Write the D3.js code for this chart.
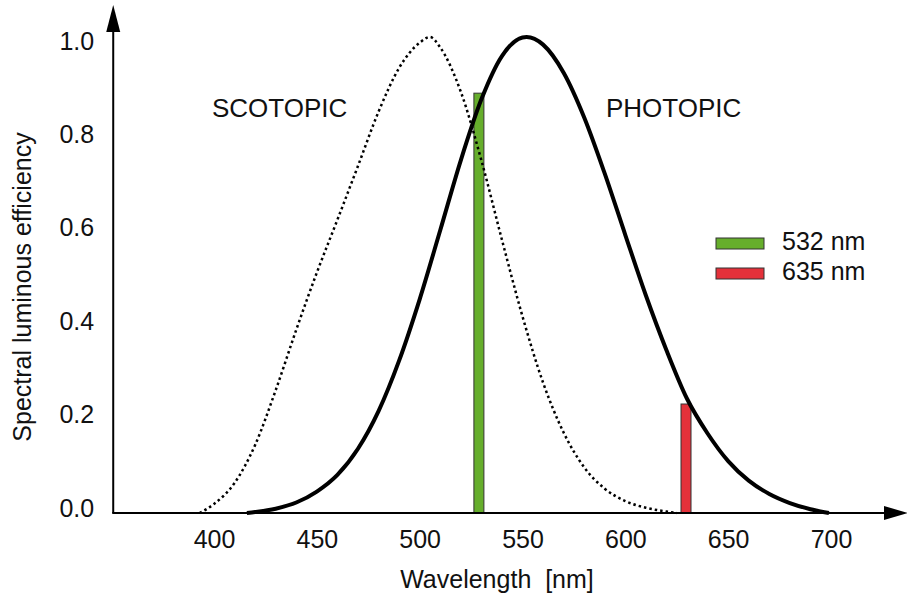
<!DOCTYPE html>
<html>
<head>
<meta charset="utf-8">
<script src="https://cdn.jsdelivr.net/npm/d3@7"></script>
<style>
  html, body { margin: 0; padding: 0; background: #fff; }
  svg { display: block; font-family: "Liberation Sans", Arial, sans-serif; }
</style>
</head>
<body>
<svg id="chart" width="907" height="601"></svg>
<script>
// wavelengths as they sit on the drawing's own x axis
var photopicNm  = [416, 420, 430, 440, 450, 460, 470, 480, 490, 500, 510, 520, 530, 540, 550, 552,
                   560, 570, 580, 590, 600, 610, 620, 630, 640, 650, 660, 670, 680, 690, 699];
var photopicVal = [0, 0.002, 0.009, 0.022, 0.045, 0.080, 0.135, 0.214, 0.320, 0.449, 0.594, 0.741, 0.869, 0.960, 0.999, 1.0,
                   0.984, 0.925, 0.831, 0.713, 0.584, 0.457, 0.342, 0.240, 0.167, 0.109, 0.068, 0.040, 0.021, 0.008, 0];

var scotopicNm  = [393, 400, 410, 420, 430, 440, 450, 460, 470, 480, 490, 500, 505,
                   510, 520, 530, 540, 550, 560, 570, 580, 590, 600, 610, 620, 625];
var scotopicVal = [0, 0.019, 0.063, 0.143, 0.258, 0.385, 0.505, 0.616, 0.729, 0.843, 0.935, 0.988, 1.0,
                   0.978, 0.885, 0.741, 0.574, 0.413, 0.274, 0.169, 0.096, 0.051, 0.025, 0.011, 0.003, 0];

var laserNames = ["532 nm", "635 nm"];
var laserNm    = [528.8, 629.5];   // where the bars stand on the drawing
var laserVal   = [0.882, 0.229];
var laserColor = ["#66ae2c", "#e4313a"];

var xTicks = [400, 450, 500, 550, 600, 650, 700];
var yTicks = [0, 0.2, 0.4, 0.6, 0.8, 1.0];

var svg = d3.select("#chart");

var x = d3.scaleLinear().domain([400, 700]).range([214, 831]);
var y = d3.scaleLinear().domain([0, 1]).range([513, 37]);
// tick labels sit a little inside the curve scale on this drawing
var yLab = d3.scaleLinear().domain([0, 1]).range([508, 41]);

var x0 = x(351), y0 = y(0);

// bars first, the curves run over them
svg.append("g").selectAll("rect")
  .data(laserNm)
  .join("rect")
    .attr("x", function (d) { return x(d) - 5; })
    .attr("y", function (d, i) { return y(laserVal[i]); })
    .attr("width", 10)
    .attr("height", function (d, i) { return y0 - y(laserVal[i]); })
    .attr("fill", function (d, i) { return laserColor[i]; })
    .attr("stroke", "#333")
    .attr("stroke-width", 1);

var line = d3.line()
  .x(function (d) { return x(d[0]); })
  .y(function (d) { return y(d[1]); })
  .curve(d3.curveMonotoneX);

svg.append("path")
  .datum(scotopicNm.map(function (d, i) { return [d, scotopicVal[i]]; }))
  .attr("d", line)
  .attr("fill", "none")
  .attr("stroke", "#000")
  .attr("stroke-width", 2.5)
  .attr("stroke-dasharray", "2.5,3");

svg.append("path")
  .datum(photopicNm.map(function (d, i) { return [d, photopicVal[i]]; }))
  .attr("d", line)
  .attr("fill", "none")
  .attr("stroke", "#000")
  .attr("stroke-width", 4)
  .attr("stroke-linecap", "butt");

// axes with arrows
svg.append("line")
  .attr("x1", x0).attr("y1", y0).attr("x2", x0).attr("y2", 20)
  .attr("stroke", "#000").attr("stroke-width", 2);
svg.append("path")
  .attr("d", "M" + x0 + ",5L" + (x0 - 7) + ",32L" + (x0 + 7) + ",32Z")
  .attr("fill", "#000");
svg.append("line")
  .attr("x1", x0 - 1).attr("y1", y0).attr("x2", 895).attr("y2", y0)
  .attr("stroke", "#000").attr("stroke-width", 2);
svg.append("path")
  .attr("d", "M908," + y0 + "L884," + (y0 - 7) + "L884," + (y0 + 7) + "Z")
  .attr("fill", "#000");

var xAxis = svg.append("g")
  .attr("transform", "translate(0," + y0 + ")")
  .call(d3.axisBottom(x).tickValues(xTicks).tickSize(0).tickPadding(17));
xAxis.select(".domain").remove();
xAxis.selectAll("text").attr("font-size", 25).attr("fill", "#111")
  .attr("font-family", "Liberation Sans, Arial, sans-serif");

var yAxis = svg.append("g")
  .attr("transform", "translate(" + x0 + ",0)")
  .call(d3.axisLeft(yLab).tickValues(yTicks).tickSize(0).tickPadding(19).tickFormat(d3.format(".1f")));
yAxis.select(".domain").remove();
yAxis.selectAll("text").attr("font-size", 25).attr("fill", "#111")
  .attr("font-family", "Liberation Sans, Arial, sans-serif");

// titles
svg.append("text")
  .attr("x", 497).attr("y", 588)
  .attr("text-anchor", "middle")
  .attr("font-size", 25).attr("fill", "#111")
  .style("white-space", "pre")
  .text("Wavelength  [nm]");

svg.append("text")
  .attr("transform", "translate(31,287) rotate(-90)")
  .attr("text-anchor", "middle")
  .attr("font-size", 25).attr("fill", "#111")
  .text("Spectral luminous efficiency");

svg.append("text")
  .attr("x", 212).attr("y", 117)
  .attr("font-size", 26).attr("fill", "#111")
  .text("SCOTOPIC");
svg.append("text")
  .attr("x", 606).attr("y", 117)
  .attr("font-size", 26).attr("fill", "#111")
  .text("PHOTOPIC");

// legend
var leg = svg.append("g").selectAll("g")
  .data(laserNames)
  .join("g")
    .attr("transform", function (d, i) { return "translate(716," + (238 + i * 30) + ")"; });
leg.append("rect")
  .attr("width", 48).attr("height", 11)
  .attr("fill", function (d, i) { return laserColor[i]; })
  .attr("stroke", "#333").attr("stroke-width", 1);
leg.append("text")
  .attr("x", 66).attr("y", 12)
  .attr("font-size", 25).attr("fill", "#111")
  .text(function (d) { return d; });
</script>
</body>
</html>
